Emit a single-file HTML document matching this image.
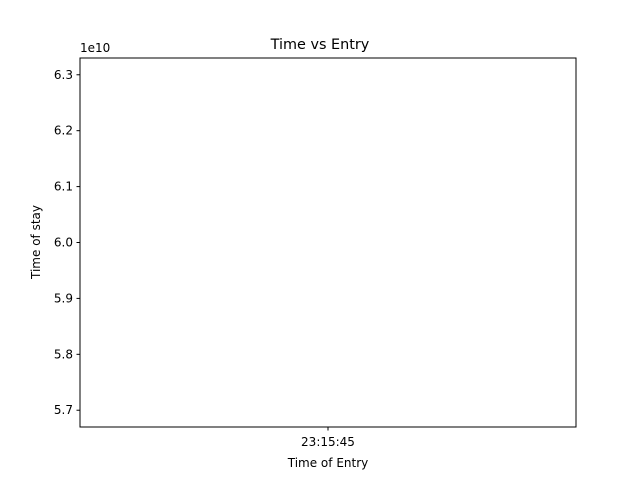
<!DOCTYPE html>
<html><head><meta charset="utf-8"><style>
body{margin:0;background:#fff;}
svg text{font-family:"DejaVu Sans","Liberation Sans",sans-serif;fill:#000;}
</style></head><body>
<svg width="640" height="480" viewBox="0 0 640 480">
<rect width="640" height="480" fill="#fff"/>
<g id="yt"></g>
<g id="xt"></g>
<rect x="80" y="58" width="496" height="369" fill="none" stroke="#000" stroke-width="1"/>
<text x="320" y="49" font-size="14.4" text-anchor="middle">Time vs Entry</text>
<text x="328" y="467" font-size="12" text-anchor="middle">Time of Entry</text>
<text transform="translate(40,242) rotate(-90)" font-size="12" text-anchor="middle">Time of stay</text>
<text x="80" y="52" font-size="12">1e10</text>
</svg>
<script>
const yTicks=[5.7,5.8,5.9,6.0,6.1,6.2,6.3];
const xTickLabels=["23:15:45"];
const yMin=5.67,yMax=6.33;
const plotTop=58,plotBottom=427,plotLeft=80,plotRight=576;
function yS(v){return plotBottom-(v-yMin)/(yMax-yMin)*(plotBottom-plotTop);}
const ns="http://www.w3.org/2000/svg";
const yt=document.getElementById('yt');
yTicks.forEach(v=>{
 const y=yS(v);
 const l=document.createElementNS(ns,'line');
 l.setAttribute('x1',plotLeft-3.5);l.setAttribute('x2',plotLeft);l.setAttribute('y1',y);l.setAttribute('y2',y);l.setAttribute('stroke','#000');
 
 
 yt.appendChild(l);
 const t=document.createElementNS(ns,'text');
 t.setAttribute('x',plotLeft-7);t.setAttribute('y',y+4);t.setAttribute('font-size','12');t.setAttribute('text-anchor','end');
 t.textContent=v.toFixed(1);
 
 
 yt.appendChild(t);
});
const xt=document.getElementById('xt');
xTickLabels.forEach((s,i)=>{
 const x=plotLeft+(plotRight-plotLeft)*(i+1)/(xTickLabels.length+1);
 const l=document.createElementNS(ns,'line');
 l.setAttribute('x1',x);l.setAttribute('x2',x);l.setAttribute('y1',plotBottom);l.setAttribute('y2',plotBottom+3.5);l.setAttribute('stroke','#000');
 
 
 xt.appendChild(l);
 const t=document.createElementNS(ns,'text');
 t.setAttribute('x',x);t.setAttribute('y',plotBottom+19);t.setAttribute('font-size','12');t.setAttribute('text-anchor','middle');
 t.textContent=s;
 
 
 xt.appendChild(t);
});
</script>
</body></html>
